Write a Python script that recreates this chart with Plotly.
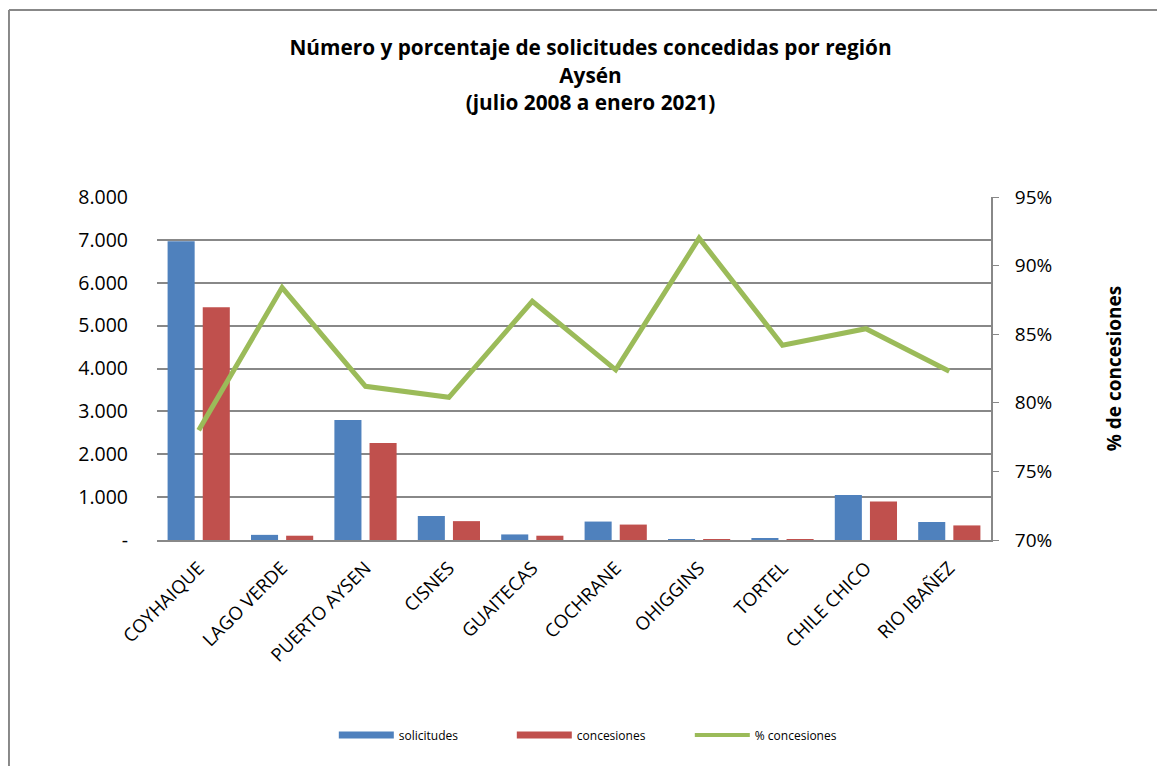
import plotly.graph_objects as go

categories = ["COYHAIQUE", "LAGO VERDE", "PUERTO AYSEN", "CISNES", "GUAITECAS",
              "COCHRANE", "OHIGGINS", "TORTEL", "CHILE CHICO", "RIO IBAÑEZ"]
solicitudes = [6970, 120, 2800, 560, 130, 430, 15, 25, 1050, 420]
concesiones = [5430, 100, 2260, 440, 100, 360, 12, 20, 900, 340]
pct_concesiones = [78.0, 88.4, 81.2, 80.4, 87.4, 82.4, 92.0, 84.2, 85.4, 82.3]

left_tickvals = [0, 1000, 2000, 3000, 4000, 5000, 6000, 7000, 8000]
left_ticktext = ["-", "1.000", "2.000", "3.000", "4.000", "5.000", "6.000", "7.000", "8.000"]
right_tickvals = [70, 75, 80, 85, 90, 95]
right_ticktext = ["70%", "75%", "80%", "85%", "90%", "95%"]

BLUE = "#4F81BD"
RED = "#C0504D"
GREEN = "#9BBB59"
FONT = "Open Sans"

fig = go.Figure()
fig.add_trace(go.Bar(x=categories, y=solicitudes, name="solicitudes",
                     marker=dict(color=BLUE, line=dict(width=0)), showlegend=False))
fig.add_trace(go.Bar(x=categories, y=concesiones, name="concesiones",
                     marker=dict(color=RED, line=dict(width=0)), showlegend=False))
fig.add_trace(go.Scatter(x=categories, y=pct_concesiones, name="% concesiones", yaxis="y2",
                         mode="lines", line=dict(color=GREEN, width=5), showlegend=False))
# legend entries
fig.add_trace(go.Scatter(x=[None], y=[None], name="solicitudes", mode="lines",
                         line=dict(color=BLUE, width=7)))
fig.add_trace(go.Scatter(x=[None], y=[None], name="concesiones", mode="lines",
                         line=dict(color=RED, width=7)))
fig.add_trace(go.Scatter(x=[None], y=[None], name="% concesiones", mode="lines",
                         line=dict(color=GREEN, width=4), yaxis="y2"))

fig.update_layout(
    width=1165, height=766,
    margin=dict(l=149, r=182, t=189, b=234),
    paper_bgcolor="white", plot_bgcolor="white",
    font=dict(family=FONT, color="black"),
    barmode="group", bargap=0.157, bargroupgap=0.23,
    title=dict(text="Número y porcentaje de solicitudes concedidas por región<br>Aysén<br>(julio 2008 a enero 2021)",
               x=0.5, xanchor="center", y=0.938, yanchor="top",
               font=dict(family=FONT, size=20.8, color="black", weight="bold")),
    xaxis=dict(tickangle=-45, tickfont=dict(size=18.5), showgrid=False,
               showline=True, linecolor="#888888", linewidth=2, ticks="",
               ticklabelstandoff=8),
    yaxis=dict(range=[0, 8000], tickvals=left_tickvals, ticktext=left_ticktext,
               tickfont=dict(size=19.5), showgrid=True, gridcolor="#888888", gridwidth=2,
               zeroline=False, showline=False, ticks="", ticklabelstandoff=28),
    yaxis2=dict(range=[70, 95], tickvals=right_tickvals, ticktext=right_ticktext,
                overlaying="y", side="right", tickfont=dict(size=19),
                showgrid=False, zeroline=False, showline=True, linecolor="#888888",
                linewidth=2, ticks="outside", ticklen=6, tickcolor="#888888",
                ticklabelstandoff=12,
                title=dict(text="% de concesiones", font=dict(size=19, weight="bold"),
                           standoff=56)),
    legend=dict(orientation="h", x=0.212, xanchor="left", y=-0.5685, yanchor="middle",
                font=dict(size=12), entrywidth=108, itemwidth=55),
    shapes=[dict(type="line", xref="paper", yref="paper", x0=-0.1775, x1=1.3,
                 y0=1.545, y1=1.545, line=dict(color="#888888", width=2)),
            dict(type="line", xref="paper", yref="paper", x0=-0.1775, x1=-0.1775,
                 y0=1.545, y1=-0.8, line=dict(color="#888888", width=2))],
)

fig.write_html("out.html")
